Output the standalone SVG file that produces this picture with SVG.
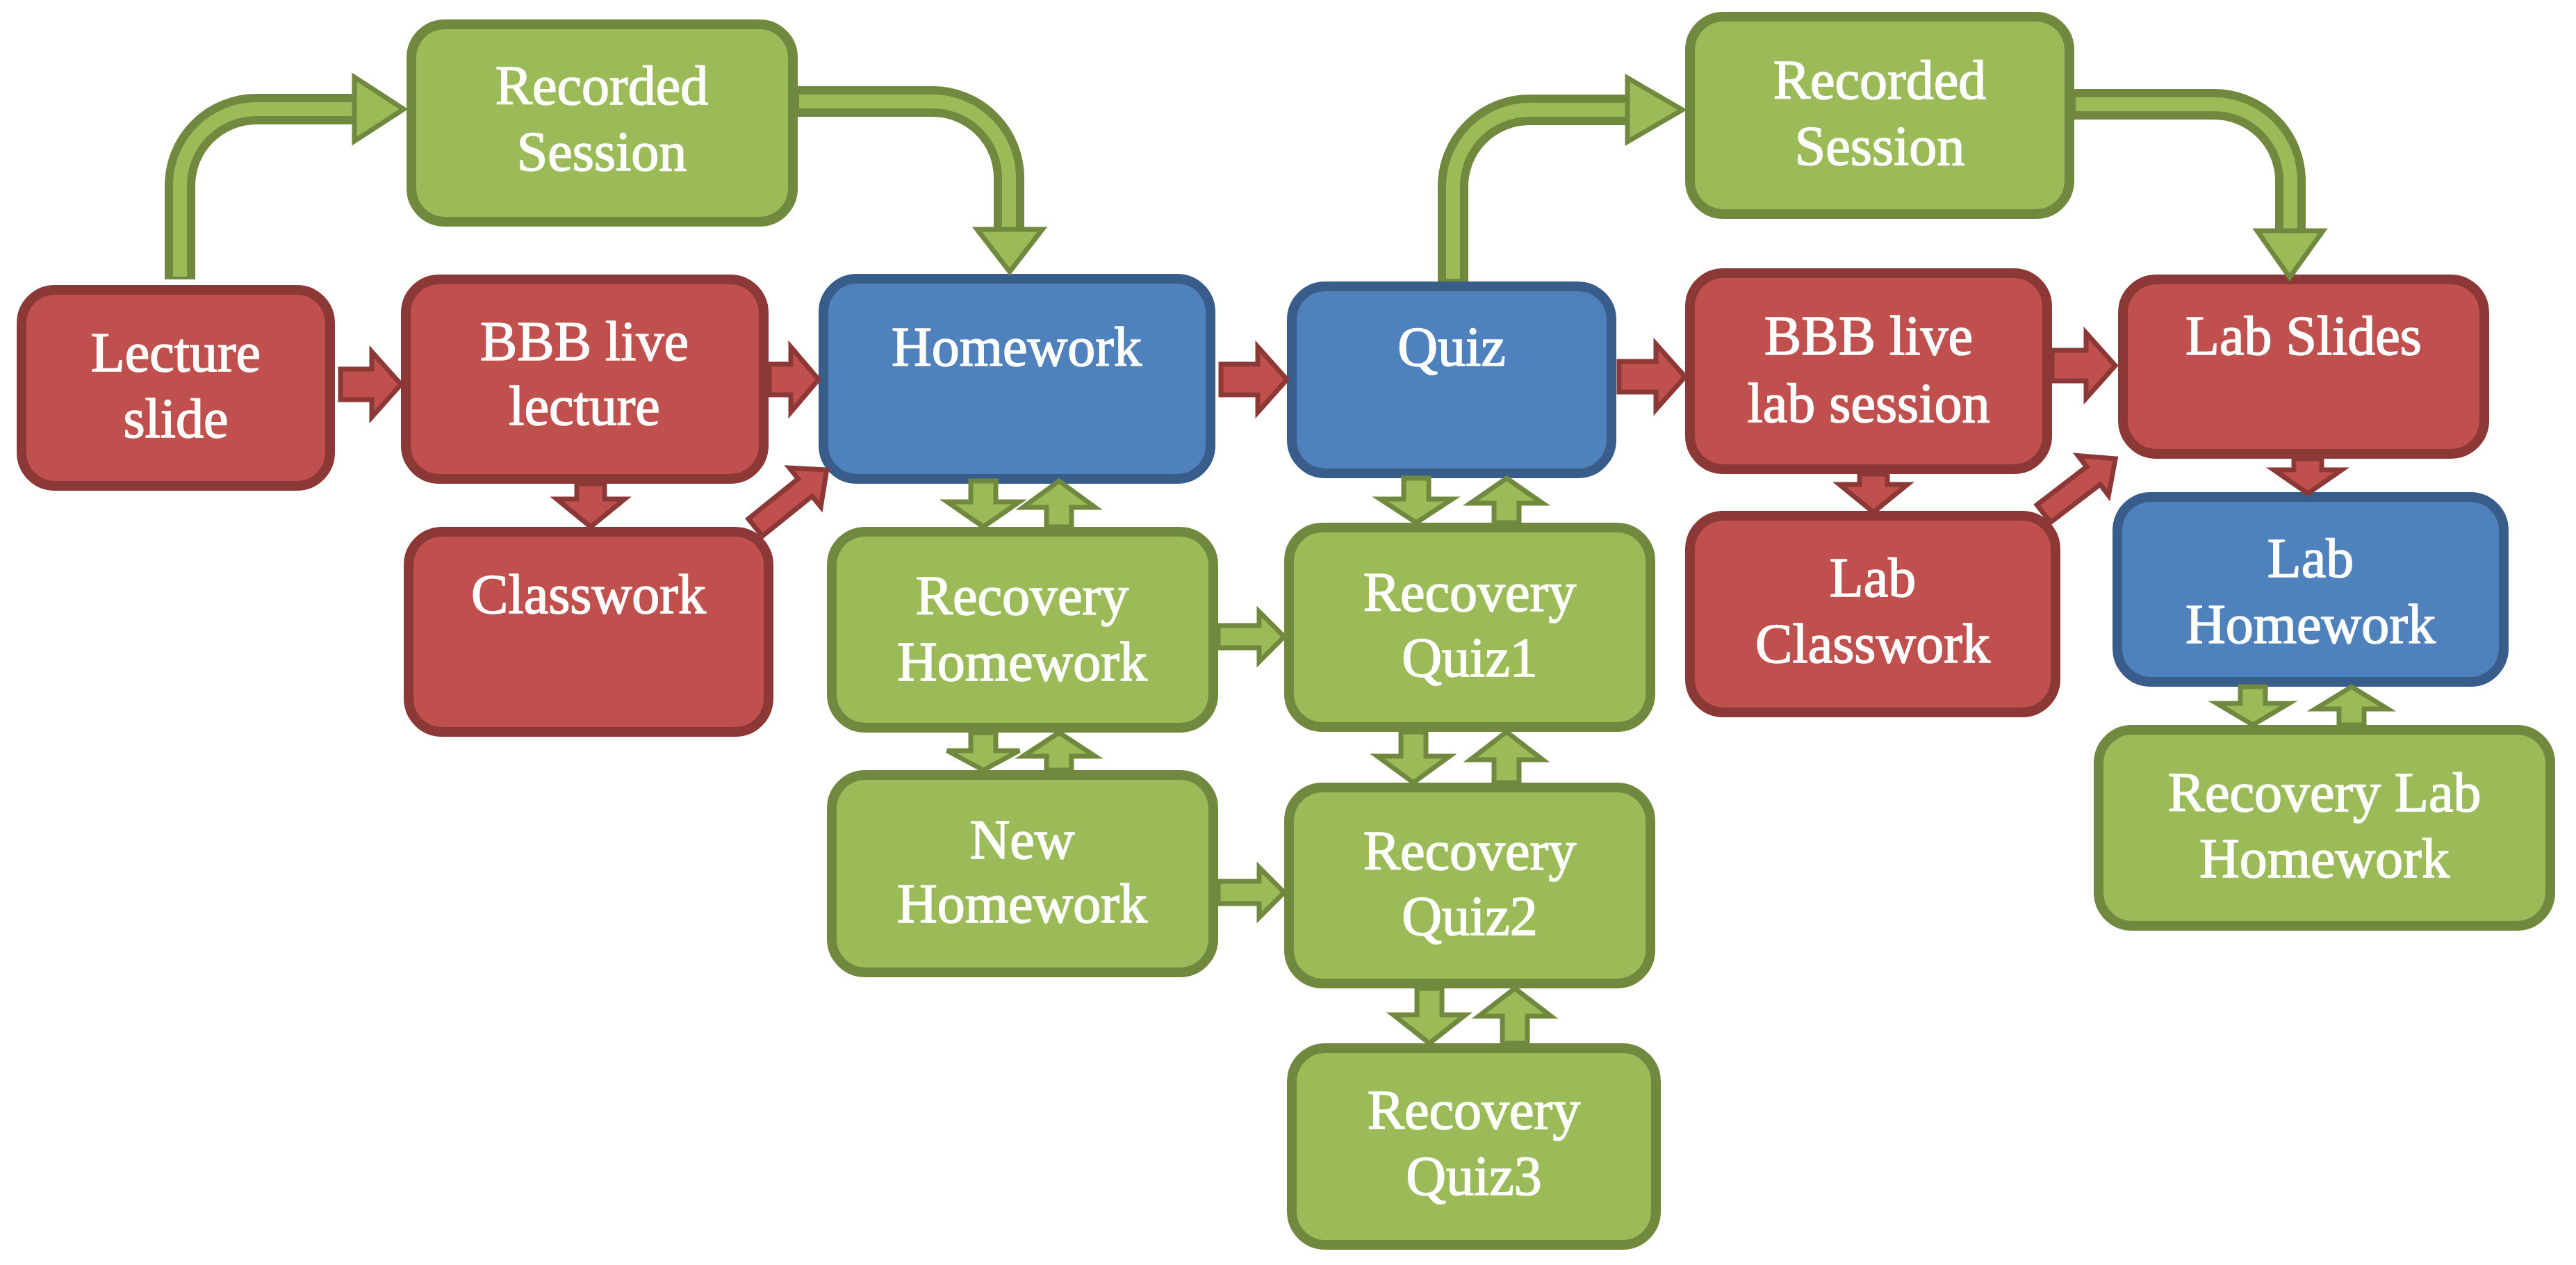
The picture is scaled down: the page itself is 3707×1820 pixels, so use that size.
<svg xmlns="http://www.w3.org/2000/svg" width="3707" height="1820" viewBox="0 0 3707 1820">
<style>
.red{fill:#C0504D;stroke:#8C3836;stroke-width:14}
.blue{fill:#4F81BD;stroke:#385D8A;stroke-width:14}
.green{fill:#9BBB59;stroke:#71893F;stroke-width:14}
text{font-size:80px;fill:#FFFFFF;stroke:#FFFFFF;stroke-width:1.5;text-anchor:middle}
.ra{fill:#C0504D;stroke:#8C3836;stroke-width:7;stroke-linejoin:miter}
.ga{fill:#9BBB59;stroke:#71893F;stroke-width:7;stroke-linejoin:miter}
.co{fill:none;stroke:#71893F;stroke-width:44}
.ci{fill:none;stroke:#9BBB59;stroke-width:20}
</style>
<rect width="3707" height="1820" fill="#FFFFFF"/>
<g id="nodes" font-family="Liberation Serif, Times New Roman, DejaVu Serif, serif">
<g id="rec1"><rect class="green" x="592" y="35" width="549" height="284" rx="48"/><text x="866" y="150">Recorded</text><text x="866" y="245">Session</text></g>
<g id="lecture"><rect class="red" x="31" y="417" width="444" height="282" rx="48"/><text x="253" y="534">Lecture</text><text x="253" y="629">slide</text></g>
<g id="bbb"><rect class="red" x="584" y="402" width="515" height="287" rx="48"/><text x="841" y="518">BBB live</text><text x="841" y="611">lecture</text></g>
<g id="classwork"><rect class="red" x="588" y="765" width="518" height="288" rx="48"/><text x="847" y="882">Classwork</text></g>
<g id="homework"><rect class="blue" x="1185" y="401" width="557" height="288" rx="48"/><text x="1463" y="526">Homework</text></g>
<g id="quiz"><rect class="blue" x="1859" y="412" width="460" height="269" rx="48"/><text x="2089" y="526">Quiz</text></g>
<g id="rechw"><rect class="green" x="1197" y="765" width="549" height="282" rx="48"/><text x="1471" y="884">Recovery</text><text x="1471" y="979">Homework</text></g>
<g id="newhw"><rect class="green" x="1197" y="1115" width="549" height="284" rx="48"/><text x="1471" y="1235">New</text><text x="1471" y="1327">Homework</text></g>
<g id="recq1"><rect class="green" x="1855" y="759" width="520" height="287" rx="48"/><text x="2115" y="879">Recovery</text><text x="2115" y="973">Quiz1</text></g>
<g id="recq2"><rect class="green" x="1855" y="1133" width="520" height="282" rx="48"/><text x="2115" y="1251">Recovery</text><text x="2115" y="1345">Quiz2</text></g>
<g id="recq3"><rect class="green" x="1859" y="1508" width="524" height="283" rx="48"/><text x="2121" y="1624">Recovery</text><text x="2121" y="1719">Quiz3</text></g>
<g id="rec2"><rect class="green" x="2432" y="24" width="546" height="284" rx="48"/><text x="2705" y="142">Recorded</text><text x="2705" y="237">Session</text></g>
<g id="bbblab"><rect class="red" x="2432" y="393" width="514" height="282" rx="48"/><text x="2689" y="510">BBB live</text><text x="2689" y="607">lab session</text></g>
<g id="labslides"><rect class="red" x="3055" y="402" width="520" height="251" rx="48"/><text x="3315" y="510">Lab Slides</text></g>
<g id="labcw"><rect class="red" x="2432" y="742" width="526" height="283" rx="48"/><text x="2695" y="858">Lab</text><text x="2695" y="953">Classwork</text></g>
<g id="labhw"><rect class="blue" x="3047" y="715" width="556" height="266" rx="48"/><text x="3325" y="830">Lab</text><text x="3325" y="925">Homework</text></g>
<g id="reclabhw"><rect class="green" x="3020" y="1050" width="650" height="282" rx="48"/><text x="3345" y="1167">Recovery Lab</text><text x="3345" y="1262">Homework</text></g>
</g>
<g id="connectors">
<path class="co" d="M259 402 V267 A110 110 0 0 1 369 157 H514"/>
<path class="ci" d="M259 398 V267 A110 110 0 0 1 369 157 H514"/>
<polygon class="ga" points="510,111 581,157 510,203"/>
<path class="co" d="M1146 146 H1342 A110 110 0 0 1 1452 256 V334"/>
<path class="ci" d="M1150 146 H1342 A110 110 0 0 1 1452 256 V334"/>
<polygon class="ga" points="1406,330 1500,330 1453,391"/>
<path class="co" d="M2091 405 V268 A110 110 0 0 1 2201 158 H2346"/>
<path class="ci" d="M2091 401 V268 A110 110 0 0 1 2201 158 H2346"/>
<polygon class="ga" points="2342,112 2421,158 2342,204"/>
<path class="co" d="M2983 150 H3186 A110 110 0 0 1 3296 260 V336"/>
<path class="ci" d="M2987 150 H3186 A110 110 0 0 1 3296 260 V336"/>
<polygon class="ga" points="3248,332 3343,332 3295,399"/>
<polygon class="ra" points="490,531 535,531 535,506 577,553 535,600 535,575 490,575"/>
<polygon class="ra" points="1107,524 1138,524 1138,499 1178,546 1138,593 1138,568 1107,568"/>
<polygon class="ra" points="1757,524 1810,524 1810,499 1852,546 1810,593 1810,568 1757,568"/>
<polygon class="ra" points="2330,520 2383,520 2383,495 2425,542 2383,589 2383,564 2330,564"/>
<polygon class="ra" points="2953,504 3002,504 3002,479 3044,526 3002,573 3002,548 2953,548"/>
<polygon class="ra" points="830,696 870,696 870,718 899,718 850,758 801,718 830,718"/>
<polygon class="ra" points="2676,682 2716,682 2716,697 2745,697 2696,737 2647,697 2676,697"/>
<polygon class="ra" points="3301,660 3341,660 3341,676 3370,676 3321,710 3272,676 3301,676"/>
<polygon class="ra" transform="translate(1087 759) rotate(-38.9)" points="0,-16 92,-16 92,-36 132,0 92,36 92,16 0,16"/>
<polygon class="ra" transform="translate(2941 739) rotate(-37.5)" points="0,-16 90,-16 90,-36 130,0 90,36 90,16 0,16"/>
<polygon class="ga" points="1753,900 1812,900 1812,880 1848,916 1812,952 1812,932 1753,932"/>
<polygon class="ga" points="1753,1268 1812,1268 1812,1248 1848,1284 1812,1320 1812,1300 1753,1300"/>
<polygon class="ga" points="1397,692 1433,692 1433,722 1467,722 1415,758 1363,722 1397,722"/>
<polygon class="ga" points="1524,692 1576,730 1542,730 1542,758 1506,758 1506,730 1472,730"/>
<polygon class="ga" points="1397,1054 1433,1054 1433,1080 1467,1080 1415,1108 1363,1080 1397,1080"/>
<polygon class="ga" points="1524,1054 1576,1088 1542,1088 1542,1108 1506,1108 1506,1088 1472,1088"/>
<polygon class="ga" points="2020,688 2056,688 2056,718 2090,718 2038,752 1986,718 2020,718"/>
<polygon class="ga" points="2168,688 2220,724 2186,724 2186,752 2150,752 2150,724 2116,724"/>
<polygon class="ga" points="2016,1053 2052,1053 2052,1088 2086,1088 2034,1126 1982,1088 2016,1088"/>
<polygon class="ga" points="2168,1053 2220,1093 2186,1093 2186,1126 2150,1126 2150,1093 2116,1093"/>
<polygon class="ga" points="2039,1422 2075,1422 2075,1460 2109,1460 2057,1501 2005,1460 2039,1460"/>
<polygon class="ga" points="2180,1422 2232,1462 2198,1462 2198,1501 2162,1501 2162,1462 2128,1462"/>
<polygon class="ga" points="3224,988 3260,988 3260,1012 3294,1012 3242,1043 3190,1012 3224,1012"/>
<polygon class="ga" points="3384,988 3436,1020 3402,1020 3402,1043 3366,1043 3366,1020 3332,1020"/>
</g>
</svg>
